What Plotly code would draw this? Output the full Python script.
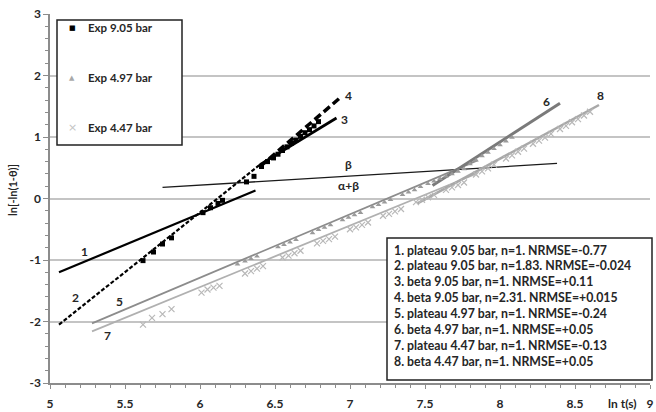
import plotly.graph_objects as go

# ---------------- data ----------------
exp905_x = [5.62, 5.69, 5.75, 5.81, 6.02, 6.07, 6.12, 6.15, 6.31, 6.36, 6.41, 6.45,
            6.49, 6.52, 6.55, 6.58, 6.61, 6.64, 6.67, 6.70, 6.73, 6.76, 6.79]
exp905_y = [-1.01, -0.87, -0.74, -0.64, -0.23, -0.15, -0.08, -0.03, 0.27, 0.36, 0.52, 0.60,
            0.66, 0.72, 0.78, 0.84, 0.90, 0.95, 1.01, 1.07, 1.12, 1.18, 1.25]

exp497_x = [6.25, 6.30, 6.34, 6.38, 6.52, 6.56, 6.60, 6.64, 6.75, 6.79, 6.83, 6.87,
            6.95, 6.99, 7.03, 7.07, 7.15, 7.19, 7.23, 7.27, 7.35, 7.39, 7.43, 7.47,
            7.52, 7.56, 7.60, 7.64, 7.68, 7.72, 7.76, 7.80, 7.84, 7.88, 7.92, 7.96,
            8.00, 8.04, 8.08]
exp497_y = [-1.07, -1.02, -0.98, -0.94, -0.79, -0.75, -0.71, -0.67, -0.56, -0.51, -0.47, -0.43,
            -0.35, -0.31, -0.27, -0.23, -0.14, -0.10, -0.06, -0.02, 0.06, 0.10, 0.14, 0.19,
            0.24, 0.28, 0.32, 0.36, 0.40, 0.44, 0.48, 0.56, 0.62, 0.69, 0.75, 0.81,
            0.87, 0.93, 0.99]

exp447_x = [5.62, 5.68, 5.75, 5.81, 6.01, 6.05, 6.09, 6.13, 6.30, 6.34, 6.38, 6.42,
            6.55, 6.59, 6.63, 6.67, 6.78, 6.82, 6.86, 6.90, 7.00, 7.04, 7.08, 7.12,
            7.22, 7.26, 7.30, 7.34, 7.44, 7.48, 7.52, 7.56, 7.64, 7.68, 7.72, 7.76,
            7.84, 7.88, 7.92, 7.96, 8.04, 8.08, 8.12, 8.16, 8.22, 8.26, 8.30, 8.34,
            8.40, 8.44, 8.48, 8.52, 8.56, 8.60]
exp447_y = [-2.05, -1.94, -1.88, -1.80, -1.53, -1.48, -1.45, -1.42, -1.22, -1.18, -1.14, -1.10,
            -0.96, -0.93, -0.89, -0.85, -0.73, -0.69, -0.66, -0.62, -0.50, -0.47, -0.43, -0.39,
            -0.28, -0.25, -0.21, -0.17, -0.06, -0.02, 0.02, 0.06, 0.14, 0.18, 0.22, 0.26,
            0.39, 0.44, 0.49, 0.55, 0.65, 0.70, 0.76, 0.81, 0.89, 0.94, 0.99, 1.05,
            1.13, 1.18, 1.24, 1.29, 1.35, 1.41]

# fit lines (start/end points)
fit1_x = [5.06, 6.37]; fit1_y = [-1.20, 0.13]
fit2_x = [5.06, 6.40]; fit2_y = [-2.05, 0.55]
fit3_x = [6.40, 6.91]; fit3_y = [0.55, 1.31]
fit4_x = [6.40, 6.93]; fit4_y = [0.52, 1.63]
fit5_x = [5.28, 7.85]; fit5_y = [-2.03, 0.62]
fit6_x = [7.55, 8.40]; fit6_y = [0.21, 1.55]
fit7_x = [5.28, 7.85]; fit7_y = [-2.16, 0.41]
fit8_x = [7.45, 8.66]; fit8_y = [-0.08, 1.52]
beta_x = [5.75, 8.38]; beta_y = [0.18, 0.57]

line_labels = ["1", "2", "3", "4", "5", "6", "7", "8", "β", "α+β"]
label_x = [5.23, 5.17, 6.96, 6.99, 5.46, 8.31, 5.38, 8.67, 6.99, 6.99]
label_y = [-0.86, -1.61, 1.28, 1.67, -1.67, 1.58, -2.23, 1.68, 0.55, 0.21]

legend_names = ["Exp 9.05 bar", "Exp 4.97 bar", "Exp 4.47 bar"]
box_lines = [
    "1. plateau 9.05 bar, n=1. NRMSE=-0.77",
    "2. plateau 9.05 bar, n=1.83. NRMSE=-0.024",
    "3. beta 9.05 bar, n=1. NRMSE=+0.11",
    "4. beta 9.05 bar, n=2.31. NRMSE=+0.015",
    "5. plateau 4.97 bar, n=1. NRMSE=-0.24",
    "6. beta 4.97 bar, n=1. NRMSE=+0.05",
    "7. plateau 4.47 bar, n=1. NRMSE=-0.13",
    "8. beta 4.47 bar, n=1. NRMSE=+0.05",
]
x_ticks = [5, 5.5, 6, 6.5, 7, 7.5, 8, 8.5, 9]
y_ticks = [-3, -2, -1, 0, 1, 2, 3]

FONT = "Lato"
TXT = "#262626"

fig = go.Figure()

def add_line(x, y, color, width, dash="solid"):
    fig.add_trace(go.Scatter(x=x, y=y, mode="lines", showlegend=False,
                             line=dict(color=color, width=width, dash=dash),
                             hoverinfo="skip"))

# lines behind markers
add_line(beta_x, beta_y, "#1a1a1a", 1.3)
add_line(fit7_x, fit7_y, "#b0b0b0", 1.8)
add_line(fit8_x, fit8_y, "#a8a8a8", 2.5)
add_line(fit5_x, fit5_y, "#8c8c8c", 1.8)
add_line(fit6_x, fit6_y, "#7a7a7a", 3)

fig.add_trace(go.Scatter(x=exp447_x, y=exp447_y, mode="markers", name=legend_names[2],
                         showlegend=False,
                         marker=dict(symbol="x-thin", size=6, color="#b8b8b8",
                                     line=dict(color="#b8b8b8", width=1.2))))
fig.add_trace(go.Scatter(x=exp497_x, y=exp497_y, mode="markers", name=legend_names[1],
                         showlegend=False,
                         marker=dict(symbol="triangle-up", size=5, color="#9a9a9a")))

add_line(fit1_x, fit1_y, "#000000", 2.2)
add_line(fit2_x, fit2_y, "#000000", 2.2, "4px,2px")
add_line(fit3_x, fit3_y, "#000000", 2.8)
add_line(fit4_x, fit4_y, "#000000", 3.5, "8px,4px")

fig.add_trace(go.Scatter(x=exp905_x, y=exp905_y, mode="markers", name=legend_names[0],
                         showlegend=False,
                         marker=dict(symbol="square", size=5, color="#000000")))

for t, xx, yy in zip(line_labels, label_x, label_y):
    fig.add_annotation(x=xx, y=yy, text=t, showarrow=False,
                       font=dict(family=FONT, size=12, color=TXT, weight="bold"))

L, R, T, B = 50, 650, 14, 383
W, H = R - L, B - T
def px(xp): return (xp - L) / W
def py(yp): return 1 - (yp - T) / H

# legend box (drawn manually)
fig.add_shape(type="rect", xref="paper", yref="paper",
              x0=px(57), x1=px(182), y0=py(145), y1=py(20),
              line=dict(color="#222222", width=1.5), fillcolor="white", layer="above")
legend_glyphs = ["■", "▲", "×"]
legend_colors = ["#000000", "#a8a8a8", "#c4c4c4"]
legend_gsize = [7, 7, 11]
for i, (nm, g, c, gs) in enumerate(zip(legend_names, legend_glyphs, legend_colors, legend_gsize)):
    yy = py(28 + 49.5 * i)
    fig.add_annotation(xref="paper", yref="paper", x=px(72), y=yy,
                       xanchor="center", yanchor="middle", showarrow=False,
                       text=g, font=dict(family="DejaVu Sans", size=gs, color=c))
    fig.add_annotation(xref="paper", yref="paper", x=px(86), y=yy,
                       xanchor="left", yanchor="middle", showarrow=False,
                       text=nm, font=dict(family=FONT, size=11.5, color=TXT, weight="bold"))

# text box
fig.add_shape(type="rect", xref="paper", yref="paper",
              x0=px(387), x1=px(652), y0=py(380), y1=py(238),
              line=dict(color="#222222", width=1.5), fillcolor="white", layer="above")
for i, s in enumerate(box_lines):
    fig.add_annotation(xref="paper", yref="paper", x=px(392), y=py(250 + 15.9 * i),
                       xanchor="left", yanchor="middle", align="left", showarrow=False,
                       text=s,
                       font=dict(family=FONT, size=12.3, color=TXT, weight="bold"))

# axis titles
fig.add_annotation(xref="paper", yref="paper", x=px(622), y=py(403),
                   xanchor="center", yanchor="middle",
                   text="ln t(s)", showarrow=False,
                   font=dict(family=FONT, size=12, color=TXT, weight="bold"))
fig.add_annotation(xref="paper", yref="paper", x=px(13), y=py(190),
                   xanchor="center", yanchor="middle",
                   text="ln[-ln(1-θ)]", textangle=-90, showarrow=False,
                   font=dict(family=FONT, size=11, color=TXT, weight="bold"))

fig.update_layout(
    width=656, height=412,
    margin=dict(l=L, r=656 - R, t=T, b=412 - B, autoexpand=False),
    paper_bgcolor="white", plot_bgcolor="white",
    font=dict(family=FONT, size=12, color=TXT),
    showlegend=False,
    xaxis=dict(range=[5, 9], tickvals=x_ticks, ticktext=[f"{v:g}" for v in x_ticks],
               automargin=False,
               showgrid=False, zeroline=False, showline=True, linecolor="#8c8c8c",
               linewidth=1.5, ticks="outside", ticklen=4, tickcolor="#8c8c8c",
               minor=dict(dtick=0.1, ticks="outside", ticklen=3, tickcolor="#8c8c8c"),
               tickfont=dict(family=FONT, size=12, color=TXT, weight="bold"),
               ticklabelstandoff=5),
    yaxis=dict(range=[-3, 3], tickvals=y_ticks, ticktext=[f"{v:g}" for v in y_ticks],
               automargin=False,
               showgrid=True, gridcolor="#c4c4c4", gridwidth=2, zeroline=False,
               showline=True, linecolor="#8c8c8c", linewidth=1.5,
               ticks="outside", ticklen=5, tickcolor="#8c8c8c",
               minor=dict(dtick=0.2, ticks="outside", ticklen=3, tickcolor="#8c8c8c",
                          showgrid=False),
               tickfont=dict(family=FONT, size=12, color=TXT, weight="bold")),
)

fig.write_html("out.html")
